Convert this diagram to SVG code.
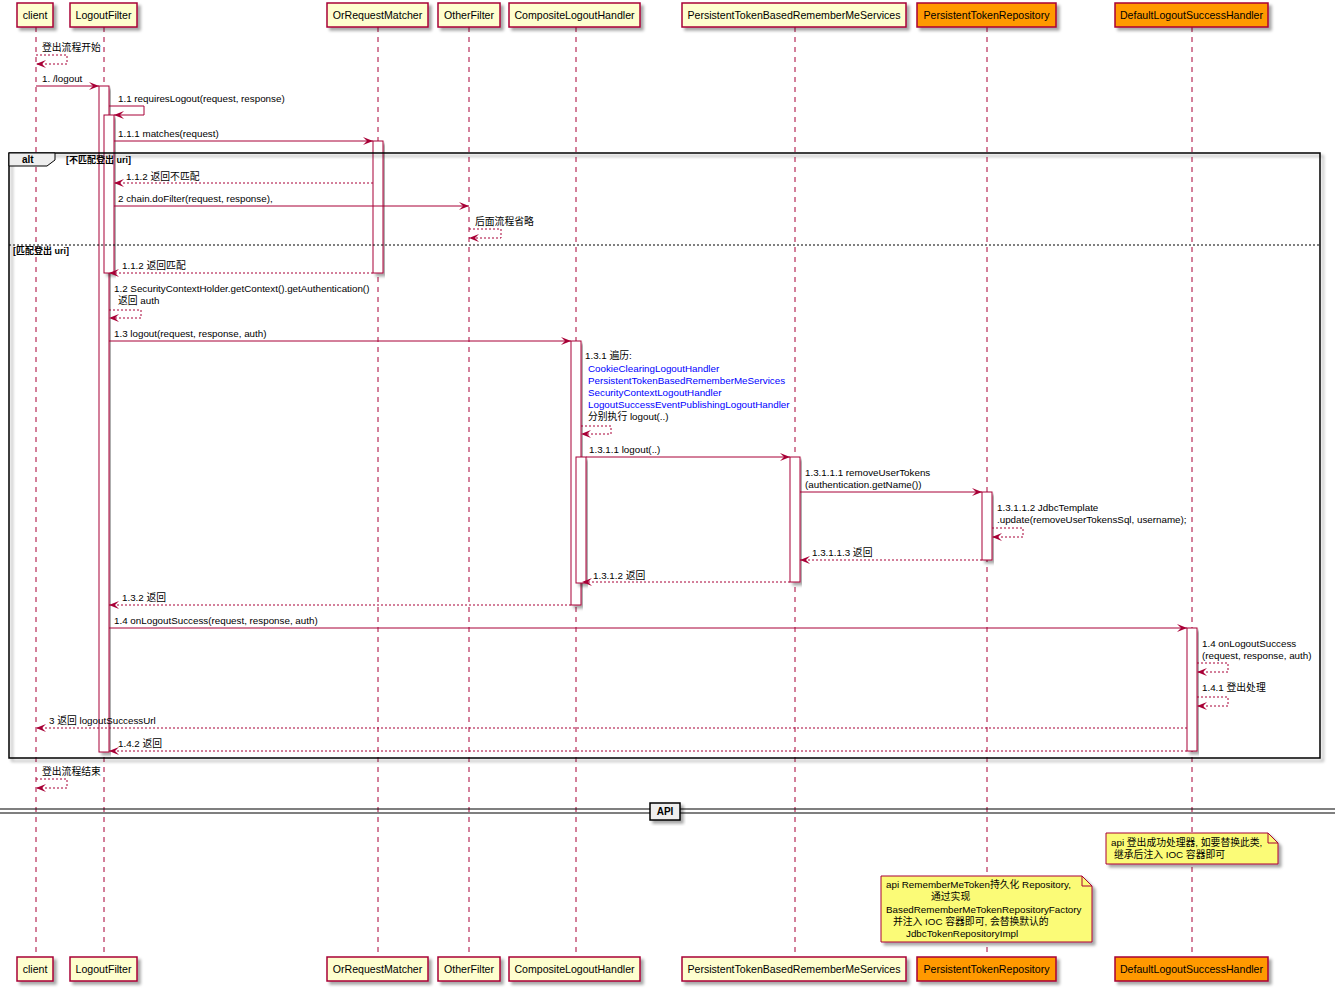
<svg xmlns="http://www.w3.org/2000/svg" width="1335" height="988" viewBox="0 0 1335 988">
<defs>
<filter id="sh" x="-10%" y="-10%" width="130%" height="140%"><feDropShadow dx="3" dy="3" stdDeviation="1.5" flood-color="#000" flood-opacity="0.35"/></filter>
<marker id="ah" viewBox="0 0 10 8" refX="10" refY="4" markerWidth="10" markerHeight="8" markerUnits="userSpaceOnUse" orient="auto"><path d="M0,0 L10,4 L0,8 L4,4 Z" fill="#A80036"/></marker>
</defs>
<style>
text{font-family:"Liberation Sans","Noto Sans CJK SC",sans-serif;font-size:9.8px;fill:#000}
.p{fill:#FEFECE;stroke:#A80036;stroke-width:1.5;filter:url(#sh)}
.po{fill:#FF9900;stroke:#A80036;stroke-width:1.5;filter:url(#sh)}
.pt{text-anchor:middle;font-size:10.6px}
.life{stroke:#A80036;stroke-width:1;stroke-dasharray:5,5;fill:none}
.act{fill:#FFFFFF;stroke:#A80036;stroke-width:1;filter:url(#sh)}
.m{stroke:#A80036;stroke-width:1;fill:none;marker-end:url(#ah)}
.r{stroke:#A80036;stroke-width:1;fill:none;stroke-dasharray:2,2;marker-end:url(#ah)}
.b{fill:#0000FF}
.g{font-weight:bold;font-size:9px}
.note{fill:#FBFB77;stroke:#A80036;stroke-width:1;filter:url(#sh)}
</style>
<rect width="1335" height="988" fill="#FFFFFF"/>
<g id="lifelines">
<line class="life" x1="36" y1="27" x2="36" y2="957"/>
<line class="life" x1="104" y1="27" x2="104" y2="957"/>
<line class="life" x1="378" y1="27" x2="378" y2="957"/>
<line class="life" x1="469" y1="27" x2="469" y2="957"/>
<line class="life" x1="576" y1="27" x2="576" y2="957"/>
<line class="life" x1="795" y1="27" x2="795" y2="957"/>
<line class="life" x1="987" y1="27" x2="987" y2="957"/>
<line class="life" x1="1192" y1="27" x2="1192" y2="957"/>
</g>
<g id="activations">
<rect class="act" x="99" y="86" width="10" height="666"/>
<rect class="act" x="104" y="115" width="10" height="158"/>
<rect class="act" x="373" y="141" width="10" height="132"/>
<rect class="act" x="571" y="341" width="10" height="264"/>
<rect class="act" x="576" y="457" width="10" height="126"/>
<rect class="act" x="790" y="457" width="10" height="125"/>
<rect class="act" x="982" y="492" width="10" height="68"/>
<rect class="act" x="1187" y="628" width="10" height="123"/>
</g>
<g id="alt-frame">
<rect x="9" y="153" width="1311" height="605" fill="none" stroke="#000" stroke-width="1.5" filter="url(#sh)"/>
<path d="M9,153 H55 V160 L47,166 H9 Z" fill="#EEEEEE" stroke="#000" stroke-width="1"/>
<text x="22" y="163" class="g" style="font-size:10px">alt</text>
<text x="66" y="163" class="g">[不匹配登出 uri]</text>
<line x1="9" y1="245" x2="1320" y2="245" stroke="#000" stroke-width="1" stroke-dasharray="2,2"/>
<text x="13" y="254" class="g">[匹配登出 uri]</text>
</g>
<g id="connectors">
<text x="42" y="51">登出流程开始</text>
<path class="r" d="M36,55 H67 V64 H36"/>
<text x="42" y="82">1. /logout</text>
<path class="m" d="M36,86 H99"/>
<text x="118" y="102">1.1 requiresLogout(request, response)</text>
<path class="m" d="M109,106 H144 V115 H114"/>
<text x="118" y="137">1.1.1 matches(request)</text>
<path class="m" d="M114,141 H373"/>
<text x="126" y="180">1.1.2 返回不匹配</text>
<path class="r" d="M373,183 H114"/>
<text x="118" y="202">2 chain.doFilter(request, response),</text>
<path class="m" d="M114,206 H469"/>
<text x="475" y="225">后面流程省略</text>
<path class="r" d="M469,229 H501 V238 H469"/>
<text x="122" y="269">1.1.2 返回匹配</text>
<path class="r" d="M373,273 H109"/>
<text x="114" y="292">1.2 SecurityContextHolder.getContext().getAuthentication()</text>
<text x="118" y="304">返回 auth</text>
<path class="r" d="M109,310 H141 V318 H109"/>
<text x="114" y="337">1.3 logout(request, response, auth)</text>
<path class="m" d="M109,341 H571"/>
<text x="585" y="359">1.3.1 遍历:</text>
<text x="588" y="372" class="b">CookieClearingLogoutHandler</text>
<text x="588" y="384" class="b">PersistentTokenBasedRememberMeServices</text>
<text x="588" y="396" class="b">SecurityContextLogoutHandler</text>
<text x="588" y="408" class="b">LogoutSuccessEventPublishingLogoutHandler</text>
<text x="588" y="420">分别执行 logout(..)</text>
<path class="r" d="M581,426 H611 V434 H581"/>
<text x="589" y="453">1.3.1.1 logout(..)</text>
<path class="m" d="M586,457 H790"/>
<text x="805" y="476">1.3.1.1.1 removeUserTokens</text>
<text x="805" y="488">(authentication.getName())</text>
<path class="m" d="M800,492 H982"/>
<text x="997" y="511">1.3.1.1.2 JdbcTemplate</text>
<text x="997" y="523">.update(removeUserTokensSql, username);</text>
<path class="r" d="M992,528 H1023 V537 H992"/>
<text x="812" y="556">1.3.1.1.3 返回</text>
<path class="r" d="M982,560 H800"/>
<text x="593" y="579">1.3.1.2 返回</text>
<path class="r" d="M790,582 H582"/>
<text x="122" y="601">1.3.2 返回</text>
<path class="r" d="M571,605 H109"/>
<text x="114" y="624">1.4 onLogoutSuccess(request, response, auth)</text>
<path class="m" d="M109,628 H1187"/>
<text x="1202" y="647">1.4 onLogoutSuccess</text>
<text x="1202" y="659">(request, response, auth)</text>
<path class="r" d="M1197,663 H1228 V672 H1197"/>
<text x="1202" y="691">1.4.1 登出处理</text>
<path class="r" d="M1197,697 H1228 V706 H1197"/>
<text x="49" y="724">3 返回 logoutSuccessUrl</text>
<path class="r" d="M1187,728 H36"/>
<text x="118" y="747">1.4.2 返回</text>
<path class="r" d="M1187,751 H109"/>
<text x="42" y="775">登出流程结束</text>
<path class="r" d="M36,779 H67 V788 H36"/>
</g>
<g id="divider-api">
<line x1="0" y1="809" x2="1335" y2="809" stroke="#000" stroke-width="1.2"/>
<line x1="0" y1="813" x2="1335" y2="813" stroke="#000" stroke-width="1.2"/>
<rect x="650" y="803" width="30" height="17" fill="#EEEEEE" stroke="#000" stroke-width="1.5" filter="url(#sh)"/>
<text x="665" y="815" text-anchor="middle" font-weight="bold" style="font-size:10px">API</text>
</g>
<g id="note-success-handler">
<path class="note" d="M1106,833 H1268 L1278,843 V864 H1106 Z"/>
<path d="M1268,833 V843 H1278" fill="none" stroke="#A80036" stroke-width="1"/>
<text x="1111" y="846">api 登出成功处理器, 如要替换此类,</text>
<text x="1114" y="858">继承后注入 IOC 容器即可</text>
</g>
<g id="note-token-repository">
<path class="note" d="M881,876 H1082 L1092,886 V942 H881 Z"/>
<path d="M1082,876 V886 H1092" fill="none" stroke="#A80036" stroke-width="1"/>
<text x="886" y="888">api RememberMeToken持久化 Repository,</text>
<text x="931" y="900">通过实现</text>
<text x="886" y="913">BasedRememberMeTokenRepositoryFactory</text>
<text x="893" y="925">并注入 IOC 容器即可, 会替换默认的</text>
<text x="906" y="937">JdbcTokenRepositoryImpl</text>
</g>
<g id="client">
<rect class="p" x="17" y="3" width="36" height="24"/><text class="pt" x="35" y="19">client</text>
<rect class="p" x="17" y="957" width="36" height="24"/><text class="pt" x="35" y="973">client</text>
</g>
<g id="LogoutFilter">
<rect class="p" x="70" y="3" width="67" height="24"/><text class="pt" x="103.5" y="19">LogoutFilter</text>
<rect class="p" x="70" y="957" width="67" height="24"/><text class="pt" x="103.5" y="973">LogoutFilter</text>
</g>
<g id="OrRequestMatcher">
<rect class="p" x="327" y="3" width="101" height="24"/><text class="pt" x="377.5" y="19">OrRequestMatcher</text>
<rect class="p" x="327" y="957" width="101" height="24"/><text class="pt" x="377.5" y="973">OrRequestMatcher</text>
</g>
<g id="OtherFilter">
<rect class="p" x="438" y="3" width="62" height="24"/><text class="pt" x="469" y="19">OtherFilter</text>
<rect class="p" x="438" y="957" width="62" height="24"/><text class="pt" x="469" y="973">OtherFilter</text>
</g>
<g id="CompositeLogoutHandler">
<rect class="p" x="509" y="3" width="131" height="24"/><text class="pt" x="574.5" y="19">CompositeLogoutHandler</text>
<rect class="p" x="509" y="957" width="131" height="24"/><text class="pt" x="574.5" y="973">CompositeLogoutHandler</text>
</g>
<g id="PersistentTokenBasedRememberMeServices">
<rect class="p" x="682" y="3" width="224" height="24"/><text class="pt" x="794" y="19">PersistentTokenBasedRememberMeServices</text>
<rect class="p" x="682" y="957" width="224" height="24"/><text class="pt" x="794" y="973">PersistentTokenBasedRememberMeServices</text>
</g>
<g id="PersistentTokenRepository">
<rect class="po" x="917" y="3" width="139" height="24"/><text class="pt" x="986.5" y="19">PersistentTokenRepository</text>
<rect class="po" x="917" y="957" width="139" height="24"/><text class="pt" x="986.5" y="973">PersistentTokenRepository</text>
</g>
<g id="DefaultLogoutSuccessHandler">
<rect class="po" x="1115" y="3" width="153" height="24"/><text class="pt" x="1191.5" y="19">DefaultLogoutSuccessHandler</text>
<rect class="po" x="1115" y="957" width="153" height="24"/><text class="pt" x="1191.5" y="973">DefaultLogoutSuccessHandler</text>
</g>
</svg>
